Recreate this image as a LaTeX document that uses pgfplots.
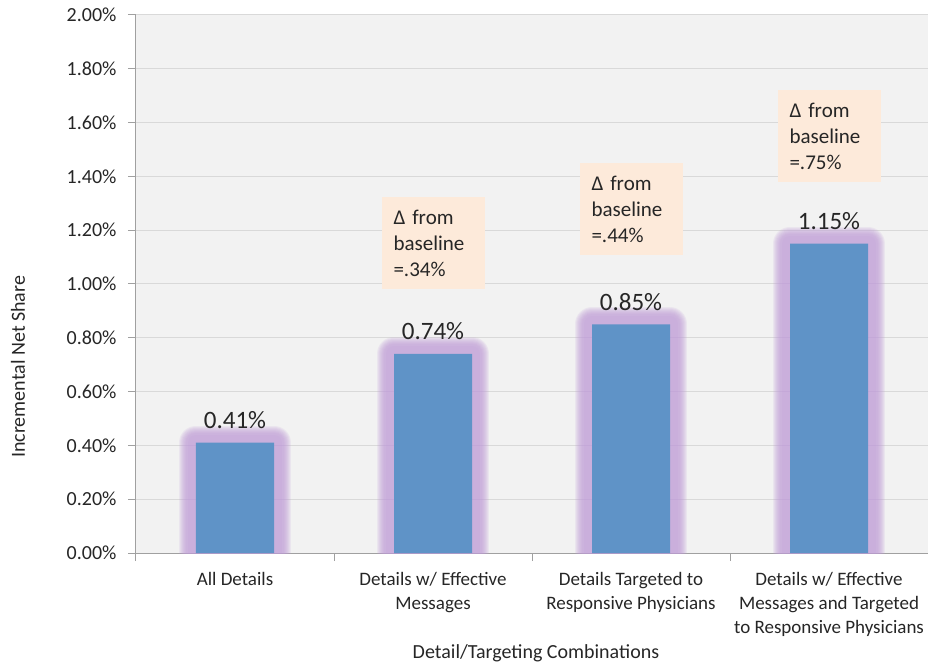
\documentclass[border=0pt]{standalone}
\usepackage{pgfplots}
\pgfplotsset{compat=1.18}
\usepackage{pgfplotstable}
\usepackage{fontspec}
\setmainfont{Carlito}

\definecolor{barblue}{HTML}{5F93C7}
\definecolor{glowpurple}{HTML}{C09CD8}
\definecolor{plotbg}{HTML}{F2F2F2}
\definecolor{gridgray}{HTML}{D9D9D9}
\definecolor{axisgray}{HTML}{A0A0A0}
\definecolor{boxpeach}{HTML}{FDEADA}
\definecolor{textdark}{HTML}{262626}

% incremental net share (in %) per detail/targeting combination
\pgfplotstableread{
cat share
0 0.41
1 0.74
2 0.85
3 1.15
}\sharedata

\tikzset{
  deltabox/.style={fill=boxpeach, anchor=north, minimum width=103pt,
    minimum height=92pt, text width=79pt, inner xsep=12pt, inner ysep=8pt,
    align=left, font=\fontsize{21}{26}\selectfont, text=textdark},
}
\pgfplotsset{
  glow/.style={ybar, bar width=78pt, bar shift=0pt, fill=none,
    draw=glowpurple, draw opacity=0.14, line join=round, forget plot,
    line width=#1}
}

\begin{document}
\begin{tikzpicture}
\begin{axis}[
  at={(0,0)}, anchor=south west,
  width=792pt, height=538pt, scale only axis,
  xmin=-0.5, xmax=3.5, ymin=0, ymax=2,
  axis background/.style={fill=plotbg},
  axis x line*=bottom, axis y line*=left,
  axis line style={axisgray, line width=1pt},
  every tick/.style={axisgray, line width=1pt},
  tick align=outside,
  major tick length=8pt, minor tick length=8pt,
  ytick={0,0.2,0.4,0.6,0.8,1,1.2,1.4,1.6,1.8,2},
  ymajorgrids, grid style={gridgray, line width=1pt},
  /pgf/number format/assume math mode=true,
  yticklabel={\pgfmathprintnumber[fixed,fixed zerofill,precision=2]{\tick}\%},
  yticklabel style={font=\fontsize{20}{24}\selectfont, text=textdark, xshift=-8pt},
  xtick={0,1,2,3},
  xticklabels={All Details,
    {Details w/ Effective\\Messages},
    {Details Targeted to\\Responsive Physicians},
    {Details w/ Effective\\Messages and Targeted\\to Responsive Physicians}},
  xticklabel style={align=center, font=\fontsize{19}{24}\selectfont, text=textdark, yshift=-8pt},
  major x tick style={draw=none},
  minor xtick={-0.5,0.5,1.5,2.5,3.5},
  xlabel={Detail/Targeting Combinations},
  ylabel={Incremental Net Share},
  every axis x label/.style={at={(axis description cs:0.505,0)}, yshift=-100pt,
    anchor=center, font=\fontsize{20}{24}\selectfont, text=textdark},
  every axis y label/.style={at={(axis description cs:-0.149,0.346)}, rotate=90,
    anchor=center, font=\fontsize{20}{24}\selectfont, text=textdark},
]
% soft purple halo behind each bar
\addplot[glow=34pt] table[x=cat,y=share]{\sharedata};
\addplot[glow=32pt] table[x=cat,y=share]{\sharedata};
\addplot[glow=30pt] table[x=cat,y=share]{\sharedata};
\addplot[glow=28pt] table[x=cat,y=share]{\sharedata};
\addplot[glow=26pt] table[x=cat,y=share]{\sharedata};
\addplot[glow=24pt] table[x=cat,y=share]{\sharedata};
\addplot[glow=22pt] table[x=cat,y=share]{\sharedata};
\addplot[glow=20pt] table[x=cat,y=share]{\sharedata};
\addplot[glow=16pt] table[x=cat,y=share]{\sharedata};
% the bars themselves, with their values on top
\addplot[ybar, bar width=78pt, bar shift=0pt, fill=barblue, draw=none,
  nodes near coords={\pgfmathprintnumber[fixed,fixed zerofill,precision=2]{\pgfplotspointmeta}\%},
  every node near coord/.append style={anchor=base, yshift=14pt,
    font=\fontsize{25}{30}\selectfont, text=textdark}]
  table[x=cat,y=share]{\sharedata};

\node[deltabox] at (axis cs:1,1.323) {Δ from\\baseline\\=.34\%};
\node[deltabox] at (axis cs:2,1.450) {Δ from\\baseline\\=.44\%};
\node[deltabox] at (axis cs:3,1.721) {Δ from\\baseline\\=.75\%};
\end{axis}
\pgfresetboundingbox
\useasboundingbox (-136pt,-113pt) rectangle (792pt,553pt);
\end{tikzpicture}
\end{document}
